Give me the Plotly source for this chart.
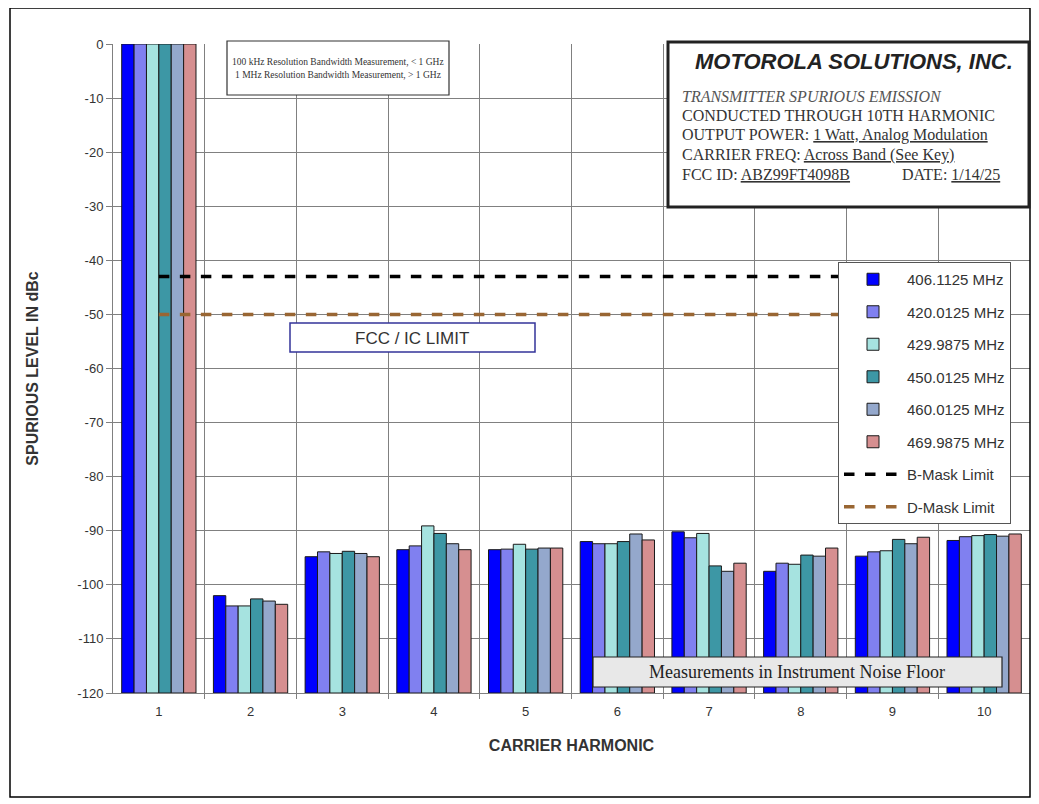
import plotly.graph_objects as go

harmonics = [1, 2, 3, 4, 5, 6, 7, 8, 9, 10]

freq_names = ['406.1125 MHz', '420.0125 MHz', '429.9875 MHz',
              '450.0125 MHz', '460.0125 MHz', '469.9875 MHz']

f406 = [0, -102.0, -94.8, -93.5, -93.5, -92.0, -90.2, -97.5, -94.7, -91.8]
f420 = [0, -103.9, -93.9, -92.8, -93.4, -92.4, -91.3, -96.0, -93.9, -91.1]
f430 = [0, -103.9, -94.2, -89.1, -92.5, -92.4, -90.5, -96.2, -93.7, -90.9]
f450 = [0, -102.6, -93.8, -90.5, -93.4, -92.0, -96.5, -94.5, -91.6, -90.7]
f460 = [0, -103.0, -94.2, -92.4, -93.2, -90.6, -97.5, -94.7, -92.4, -91.0]
f470 = [0, -103.6, -94.8, -93.5, -93.2, -91.7, -96.0, -93.2, -91.2, -90.6]

b_mask = [-43, -43, -43, -43, -43, -43, -43, -43, -43, -43]
d_mask = [-50, -50, -50, -50, -50, -50, -50, -50, -50, -50]

y_floor = -120
y_ticks = [0, -10, -20, -30, -40, -50, -60, -70, -80, -90, -100, -110, -120]
y_ticktext = ['0', '-10', '-20', '-30', '-40', '-50', '-60', '-70', '-80', '-90',
              '-100', '-110', '-120']

bar_colors = ['#0000FF', '#8080F0', '#A6E3E0', '#3D97A5', '#94A8CC', '#D68F90']

# the page body has an 8px margin, so the figure is drawn 8px smaller
OFF = 8
W, H = 1039 - OFF, 804 - OFF
L, R, T, B = 113, 1030, 44, 693

def px(x):
    return (x - L) / (R - L)

def py(y):
    return (B - y) / (B - T)

fig = go.Figure()

for i, vals in enumerate([f406, f420, f430, f450, f460, f470]):
    fig.add_trace(go.Bar(
        x=harmonics, y=[v - y_floor for v in vals], base=y_floor,
        name=freq_names[i], legendgroup=str(i),
        marker=dict(color=bar_colors[i], line=dict(color='#1a1a1a', width=1)),
        customdata=vals, hovertemplate='%{customdata} dBc<extra></extra>'))

fig.add_trace(go.Scatter(x=harmonics, y=b_mask, mode='lines', name='B-Mask Limit',
                         legendgroup='b', line=dict(color='black', width=3.5, dash='dash')))
fig.add_trace(go.Scatter(x=harmonics, y=d_mask, mode='lines', name='D-Mask Limit',
                         legendgroup='d', line=dict(color='#996633', width=3.5, dash='dash')))

sans = 'Liberation Sans, Arial, sans-serif'
serif = 'Liberation Serif, Times New Roman, serif'

fig.update_layout(
    width=W, height=H,
    margin=dict(l=L - OFF, r=1039 - R, t=T - OFF, b=804 - B),
    paper_bgcolor='white', plot_bgcolor='white',
    barmode='group', bargap=0.19, bargroupgap=0,
    font=dict(family=sans, size=13, color='#333333'),
    showlegend=True,
    legend=dict(x=px(838), y=py(262), xanchor='left', yanchor='top',
                bgcolor='white', bordercolor='#555555', borderwidth=1,
                font=dict(family=sans, size=15, color='#333333'),
                tracegroupgap=10, itemwidth=58),
    xaxis=dict(range=[0.5, 10.5], tickvals=harmonics, ticktext=[str(h) for h in harmonics],
               showgrid=False, ticks='', showline=True, linecolor='#808080',
               ticklabelstandoff=6,
               minor=dict(tickvals=[1.5, 2.5, 3.5, 4.5, 5.5, 6.5, 7.5, 8.5, 9.5],
                          showgrid=True, gridcolor='#808080', gridwidth=1,
                          ticks='outside', ticklen=5, tickcolor='#808080'),
               title=dict(text='<b>CARRIER HARMONIC</b>', font=dict(size=16, color='#333333'),
                          standoff=22),
               tickfont=dict(size=13), zeroline=False),
    yaxis=dict(range=[-120, 0], tickvals=y_ticks, ticktext=y_ticktext,
               showgrid=True, gridcolor='#808080',
               gridwidth=1, ticks='outside', ticklen=6, tickcolor='#808080',
               showline=True, linecolor='#808080', zeroline=False,
               title=dict(text='<b>SPURIOUS LEVEL IN dBc</b>', font=dict(size=16, color='#333333'),
                          standoff=34),
               tickfont=dict(size=13)),
)

shapes = [
    dict(type='rect', xref='paper', yref='paper', x0=px(10), x1=px(1030), y0=py(8), y1=py(797),
         line=dict(color='black', width=1.5)),
    dict(type='rect', xref='paper', yref='paper', x0=px(668), x1=px(1029), y0=py(42), y1=py(207),
         line=dict(color='#222222', width=3), fillcolor='white'),
    dict(type='rect', xref='paper', yref='paper', x0=px(227), x1=px(449), y0=py(41), y1=py(95),
         line=dict(color='#333333', width=1.2), fillcolor='white'),
    dict(type='rect', xref='paper', yref='paper', x0=px(290), x1=px(535), y0=py(323), y1=py(352),
         line=dict(color='#333399', width=1.5), fillcolor='white'),
    dict(type='rect', xref='paper', yref='paper', x0=px(593), x1=px(1002), y0=py(657), y1=py(687),
         line=dict(color='#222222', width=1.2), fillcolor='#E8E8E8'),
]
fig.update_layout(shapes=shapes)

def note(x, y, text, font, size, anchor='center', italic=False, color='#333333'):
    fig.add_annotation(x=px(x), y=py(y), xref='paper', yref='paper', text=text,
                       showarrow=False, xanchor=anchor, yanchor='middle',
                       font=dict(family=font, size=size, color=color,
                                 style='italic' if italic else 'normal'))

note(338, 62, '100 kHz Resolution Bandwidth Measurement, < 1 GHz', serif, 9.5)
note(338, 75, '1 MHz Resolution Bandwidth Measurement, > 1 GHz', serif, 9.5)

note(854, 62, '<b>MOTOROLA SOLUTIONS, INC.</b>', sans, 22, italic=True, color='#222222')
note(680, 96, 'TRANSMITTER SPURIOUS EMISSION', serif, 16, anchor='left', italic=True, color='#555555')
note(680, 115, 'CONDUCTED THROUGH 10TH HARMONIC', serif, 16, anchor='left')
note(680, 135, 'OUTPUT POWER: <u>1 Watt, Analog Modulation</u>', serif, 16, anchor='left')
note(680, 155, 'CARRIER FREQ: <u>Across Band (See Key)</u>', serif, 16, anchor='left')
note(680, 174, 'FCC ID: <u>ABZ99FT4098B</u>', serif, 16, anchor='left')
note(900, 174, 'DATE: <u>1/14/25</u>', serif, 16, anchor='left')

note(412, 338, 'FCC / IC LIMIT', sans, 17)
note(797, 672, 'Measurements in Instrument Noise Floor', serif, 18, color='#222222')

fig.write_html("out.html")
